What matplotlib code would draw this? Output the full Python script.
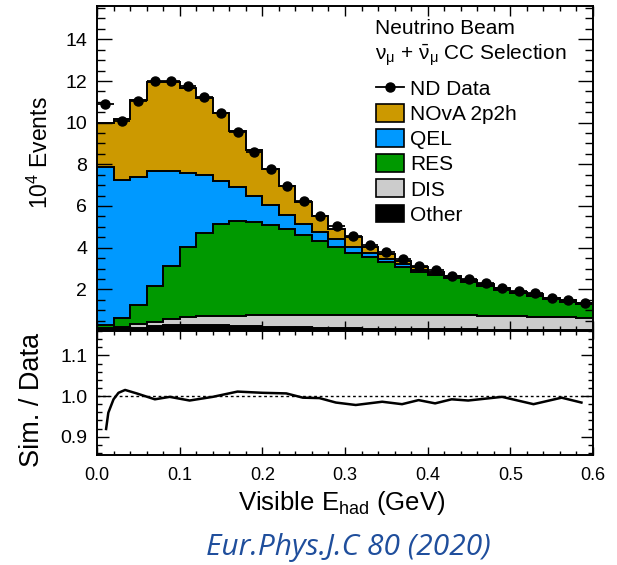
import numpy as np
import matplotlib
matplotlib.use('Agg')
import matplotlib.pyplot as plt
from matplotlib.patches import Patch
from matplotlib.lines import Line2D
from matplotlib.ticker import MultipleLocator, FormatStrFormatter

plt.rcParams['font.family'] = ['Liberation Sans', 'DejaVu Sans']
plt.rcParams['mathtext.fontset'] = 'custom'
plt.rcParams['mathtext.rm'] = 'Liberation Sans'
plt.rcParams['mathtext.it'] = 'Liberation Sans:italic'

# binning: 30 bins of 0.02 GeV
edges = np.round(np.arange(0, 0.6001, 0.02), 3)
centers = 0.5 * (edges[:-1] + edges[1:])

# cumulative stack tops (10^4 events)
top_other = [0.10, 0.14, 0.16, 0.24, 0.29, 0.30, 0.31, 0.30, 0.26, 0.23,
             0.21, 0.19, 0.17, 0.15, 0.14, 0.13, 0.12, 0.11, 0.10, 0.09,
             0.09, 0.08, 0.08, 0.07, 0.07, 0.07, 0.06, 0.06, 0.06, 0.06]
top_dis = [0.16, 0.21, 0.32, 0.45, 0.56, 0.66, 0.71, 0.73, 0.74, 0.75,
           0.76, 0.76, 0.77, 0.77, 0.77, 0.77, 0.77, 0.77, 0.77, 0.77,
           0.76, 0.76, 0.75, 0.74, 0.73, 0.71, 0.69, 0.67, 0.65, 0.63]
top_res = [0.29, 0.61, 1.25, 2.16, 3.14, 4.02, 4.70, 5.14, 5.29, 5.22,
           5.10, 4.89, 4.60, 4.31, 4.02, 3.76, 3.54, 3.33, 3.09, 2.85,
           2.69, 2.53, 2.34, 2.16, 1.97, 1.81, 1.68, 1.52, 1.41, 1.28]
top_qel = [7.87, 7.26, 7.37, 7.69, 7.66, 7.58, 7.47, 7.21, 6.89, 6.46,
           6.04, 5.58, 5.14, 4.74, 4.41, 4.02, 3.73, 3.46, 3.21, 2.93,
           2.74, 2.58, 2.38, 2.19, 2.00, 1.83, 1.70, 1.54, 1.43, 1.30]
top_2p2h = [9.98, 10.16, 11.10, 11.94, 11.94, 11.67, 11.19, 10.46, 9.62, 8.67,
            7.79, 6.94, 6.19, 5.53, 4.89, 4.50, 4.01, 3.69, 3.37, 3.06,
            2.85, 2.66, 2.45, 2.26, 2.05, 1.89, 1.76, 1.60, 1.49, 1.36]
nd_data = [10.88, 10.06, 11.06, 12.02, 11.99, 11.78, 11.22, 10.46, 9.54, 8.61,
           7.77, 6.94, 6.23, 5.54, 5.02, 4.58, 4.12, 3.77, 3.46, 3.14,
           2.93, 2.66, 2.48, 2.29, 2.08, 1.94, 1.81, 1.60, 1.49, 1.36]

# ratio curve Sim./Data
ratio_x = [0.011, 0.0137, 0.020, 0.026, 0.034, 0.048, 0.070, 0.088, 0.112, 0.140,
           0.170, 0.200, 0.229, 0.249, 0.269, 0.289, 0.313, 0.345, 0.369, 0.389,
           0.409, 0.429, 0.449, 0.490, 0.528, 0.562, 0.586]
ratio_y = [0.919, 0.959, 0.992, 1.008, 1.015, 1.0065, 0.992, 0.998, 0.989, 0.998,
           1.011, 1.008, 1.0065, 0.996, 0.995, 0.984, 0.978, 0.986, 0.980, 0.990,
           0.982, 0.992, 0.989, 0.998, 0.980, 0.996, 0.984]

labels = ['NOvA 2p2h', 'QEL', 'RES', 'DIS', 'Other']
colors = ['#cc9900', '#0099ff', '#009900', '#cccccc', '#000000']

W, H = 617, 565
fig = plt.figure(figsize=(W / 100, H / 100), dpi=100)
L, R = 97, 593
ax = fig.add_axes([L / W, 1 - 331 / H, (R - L) / W, 325 / H])
axr = fig.add_axes([L / W, 1 - 455 / H, (R - L) / W, 124 / H], sharex=ax)

# stacked histogram, bottom to top
layers = [top_other, top_dis, top_res, top_qel, top_2p2h]
layer_cols = colors[::-1]
base = np.zeros(len(centers))
for top, col in zip(layers, layer_cols):
    top = np.array(top)
    ax.stairs(top, edges, baseline=base, fill=True, color=col, lw=0)
    base = top
for top in layers:
    ax.stairs(top, edges, baseline=None, color='black', lw=1.4)

ax.errorbar(centers, nd_data, xerr=0.01, fmt='o', color='black', ms=6.5,
            elinewidth=1.3, capsize=0, zorder=5)

ax.set_xlim(0, 0.6)
ax.set_ylim(0, 15.6)
ax.yaxis.set_minor_locator(MultipleLocator(0.5))
ax.xaxis.set_major_locator(MultipleLocator(0.1))
ax.xaxis.set_minor_locator(MultipleLocator(0.02))
ax.set_yticks([2, 4, 6, 8, 10, 12, 14])
ax.tick_params(axis='both', which='both', direction='in', top=True, right=True,
               width=1.0)
ax.tick_params(axis='y', labelsize=14)
ax.tick_params(axis='y', which='major', length=11, pad=7)
ax.tick_params(axis='y', which='minor', length=5.5)
ax.tick_params(axis='x', which='major', length=7)
ax.tick_params(axis='x', which='minor', length=3.5)
ax.tick_params(axis='x', labelbottom=False)
for sp in ax.spines.values():
    sp.set_linewidth(1.4)

# header and legend
ax.text(0.5605, 0.913, 'Neutrino Beam', transform=ax.transAxes, fontsize=15,
        ha='left', va='baseline')
ax.text(0.5605, 0.834, r'$\mathrm{\nu_{\mu}}$ + $\mathrm{\bar{\nu}_{\mu}}$ CC Selection',
        transform=ax.transAxes, fontsize=15, ha='left', va='baseline')
handles = [Line2D([0], [0], color='black', marker='o', ms=6.5, lw=1.3)]
handles += [Patch(facecolor=c, edgecolor='black', lw=1.2) for c in colors]
ax.legend(handles, ['ND Data'] + labels, loc='upper left',
          bbox_to_anchor=(0.5625, 0.776), frameon=False, fontsize=15,
          handlelength=1.35, handleheight=0.95, handletextpad=0.3,
          labelspacing=0.24, borderaxespad=0, borderpad=0)

# ratio panel
axr.plot(ratio_x, ratio_y, color='black', lw=1.8)
axr.axhline(1.0, color='black', lw=1.0, ls=(0, (2, 2)))
axr.set_ylim(0.855, 1.16)
axr.set_xlim(0, 0.6)
axr.set_yticks([0.9, 1.0, 1.1])
axr.yaxis.set_minor_locator(MultipleLocator(0.02))
axr.yaxis.set_major_formatter(FormatStrFormatter('%.1f'))
axr.xaxis.set_major_formatter(FormatStrFormatter('%.1f'))
axr.tick_params(axis='both', which='both', direction='in', top=True, right=True,
                width=1.0)
axr.tick_params(axis='y', labelsize=14)
axr.tick_params(axis='x', labelsize=13)
axr.tick_params(axis='y', which='major', length=8.5, pad=7)
axr.tick_params(axis='y', which='minor', length=3.6)
axr.tick_params(axis='x', which='major', length=6, pad=9)
axr.tick_params(axis='x', which='minor', length=3)
for sp in axr.spines.values():
    sp.set_linewidth(1.4)

fig.text(40 / W, 1 - 153 / H, r'$10^4$ Events', rotation=90, fontsize=16.5,
         ha='center', va='center')
fig.text(32 / W, 1 - 400 / H, 'Sim. / Data', rotation=90, fontsize=19.5,
         ha='center', va='center')
fig.text(342 / W, 1 - 503 / H, r'Visible E$_{\mathrm{had}}$ (GeV)', fontsize=18.5,
         ha='center', va='center')
fig.text(348 / W, 1 - 547 / H, 'Eur.Phys.J.C 80 (2020)', fontsize=21.5,
         family='Open Sans', style='italic', color='#1f4e9c',
         ha='center', va='center')

fig.savefig('out.png', dpi=100)
